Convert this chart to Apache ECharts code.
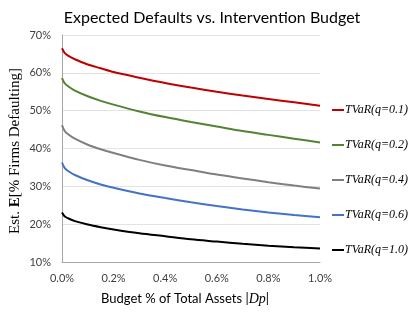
<!DOCTYPE html>
<html><head><meta charset="utf-8">
<script src="https://cdn.jsdelivr.net/npm/echarts@6/dist/echarts.min.js"></script>
<style>html,body{margin:0;padding:0;background:#fff}#c{width:415px;height:312px}</style>
</head><body><div id="c"></div>
<script>
var budget = [0, 0.01, 0.025, 0.05, 0.1, 0.15, 0.2, 0.3, 0.4, 0.5, 0.6, 0.7, 0.8, 0.9, 1.0];
var q01 = [66.5, 65.3, 64.5, 63.6, 62.2, 61.2, 60.2, 58.7, 57.3, 56.1, 55.0, 54.0, 53.1, 52.2, 51.3];
var q02 = [58.6, 57.3, 56.4, 55.3, 53.8, 52.6, 51.6, 49.8, 48.3, 47.0, 45.8, 44.6, 43.6, 42.6, 41.6];
var q04 = [46.2, 44.7, 43.7, 42.6, 41.0, 39.8, 38.8, 37.0, 35.5, 34.3, 33.1, 32.1, 31.1, 30.2, 29.4];
var q06 = [36.3, 34.9, 34.0, 33.0, 31.6, 30.5, 29.6, 28.1, 26.9, 25.8, 24.8, 23.9, 23.1, 22.4, 21.8];
var q10 = [23.1, 22.1, 21.5, 20.8, 19.9, 19.2, 18.6, 17.6, 16.8, 16.0, 15.4, 14.8, 14.3, 13.9, 13.6];
var seriesNames = ['TVaR(q=0.1)', 'TVaR(q=0.2)', 'TVaR(q=0.4)', 'TVaR(q=0.6)', 'TVaR(q=1.0)'];
var seriesData = [q01, q02, q04, q06, q10];
var colors = ['#C00000', '#548235', '#7F7F7F', '#4472C4', '#000000'];

function pairs(ys){ return budget.map(function(x,i){ return [x, ys[i]]; }); }

var chart = echarts.init(document.getElementById('c'), null, {renderer:'canvas'});
chart.setOption({
  animation: false,
  title: {
    text: 'Expected Defaults vs. Intervention Budget',
    left: 207, top: 5, textAlign: 'center',
    textStyle: {fontFamily: 'Lato', fontSize: 16, fontWeight: 'normal', color: '#000'}
  },
  grid: {left: 62, right: 95, top: 35, bottom: 50},
  legend: {
    orient: 'vertical', left: 327, top: 98, itemGap: 21,
    itemWidth: 12, itemHeight: 2, icon: 'rect',
    data: seriesNames,
    textStyle: {fontFamily: 'Liberation Serif', fontStyle: 'italic', fontSize: 12, color: '#000', lineHeight: 14, padding: [0,0,0,-4]}
  },
  xAxis: {
    type: 'value', min: 0, max: 1.0, interval: 0.2,
    axisLine: {show: true, lineStyle: {color: '#A6A6A6', width: 1}},
    axisTick: {show: false},
    splitLine: {show: false},
    axisLabel: {fontFamily: 'Lato', fontSize: 11, color: '#404040', margin: 11,
      formatter: function(v){ return v.toFixed(1) + '%'; }}
  },
  yAxis: {
    type: 'value', min: 10, max: 70, interval: 10,
    axisLine: {show: true, lineStyle: {color: '#A6A6A6', width: 1}},
    axisTick: {show: false},
    splitLine: {show: true, lineStyle: {color: '#E3E3E3', width: 1}},
    axisLabel: {fontFamily: 'Lato', fontSize: 11, color: '#404040', margin: 11,
      formatter: function(v){ return v + '%'; }}
  },
  graphic: [
    {type: 'text', x: 15, y: 151, rotation: Math.PI/2,
     style: {text: '{n|Est. }{b|E}{n|[% Firms Defaulting]}', align: 'center', verticalAlign: 'middle',
       rich: {n: {fontFamily: 'Liberation Serif', fontSize: 15, fill: '#000'},
              b: {fontFamily: 'Liberation Serif', fontSize: 15, fontWeight: 'bold', fill: '#000'}}}},
    {type: 'text', x: 185, y: 299,
     style: {text: '{n|Budget % of Total Assets |}{i|Dp}{n||}', align: 'center', verticalAlign: 'middle',
       rich: {n: {fontFamily: 'Lato', fontSize: 13, fill: '#000'},
              i: {fontFamily: 'Liberation Serif', fontStyle: 'italic', fontSize: 14, fill: '#000'}}}}
  ],
  series: seriesNames.map(function(n, k){
    return {name: n, type: 'line', data: pairs(seriesData[k]), smooth: 0.3, showSymbol: false,
      symbol: 'none', color: colors[k], lineStyle: {width: 2, color: colors[k]}};
  })
});
</script></body></html>
